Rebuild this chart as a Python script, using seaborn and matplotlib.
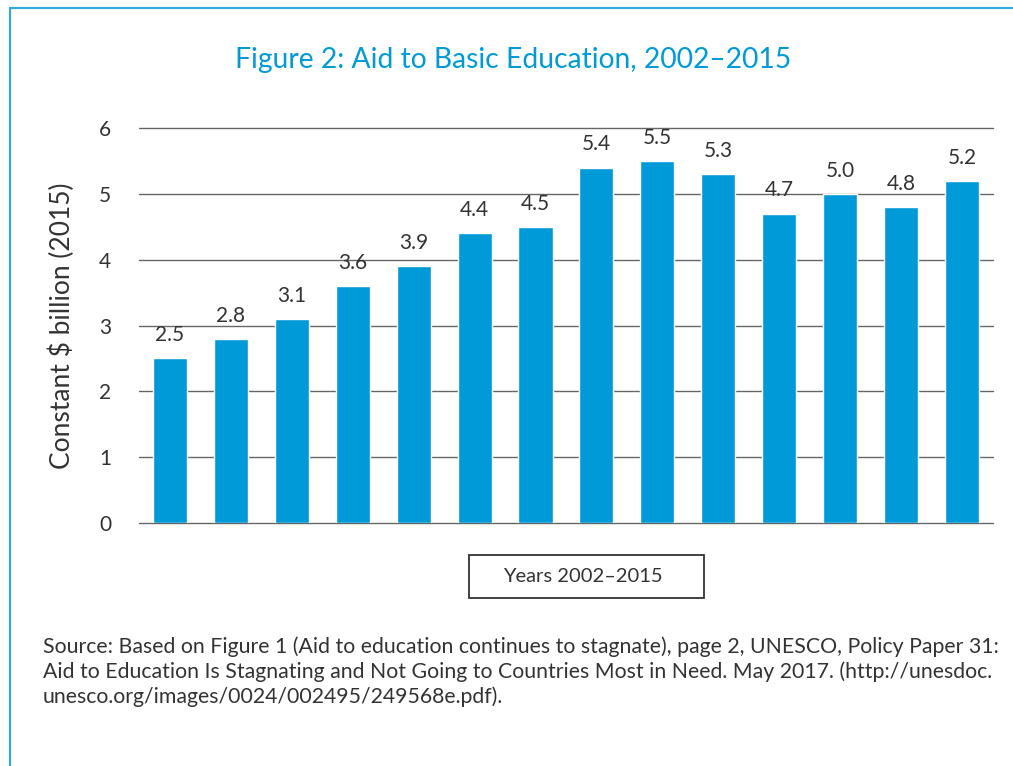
import matplotlib
matplotlib.use("Agg")
import matplotlib.pyplot as plt
import seaborn as sns
import pandas as pd
from matplotlib.patches import Rectangle

years = list(range(2002, 2016))
aid = [2.5, 2.8, 3.1, 3.6, 3.9, 4.4, 4.5, 5.4, 5.5, 5.3, 4.7, 5.0, 4.8, 5.2]
labels = ["2.5", "2.8", "3.1", "3.6", "3.9", "4.4", "4.5", "5.4", "5.5", "5.3", "4.7", "5.0", "4.8", "5.2"]
yticks = [0, 1, 2, 3, 4, 5, 6]

title = "Figure 2: Aid to Basic Education, 2002\u20132015"
ylabel = "Constant $ billion (2015)"
xbox = "Years 2002\u20132015"
source = ("Source: Based on Figure 1 (Aid to education continues to stagnate), page 2, UNESCO, Policy Paper 31:\n"
          "Aid to Education Is Stagnating and Not Going to Countries Most in Need. May 2017. (http://unesdoc.\n"
          "unesco.org/images/0024/002495/249568e.pdf).")

BLUE = "#009ad9"
TEXT = "#333333"

sns.set_style("white")
plt.rcParams["font.family"] = ["Lato", "DejaVu Sans"]

df = pd.DataFrame({"year": [str(y) for y in years], "aid": aid})

fig = plt.figure(figsize=(10.13, 7.66), dpi=100)
ax = fig.add_axes([0.1372, 0.3172, 0.843, 0.5157])

sns.barplot(data=df, x="year", y="aid", color=BLUE, saturation=1, width=0.56, ax=ax, zorder=3)

for i, (v, lab) in enumerate(zip(aid, labels)):
    ax.text(i, v + 0.2, lab, ha="center", va="bottom", fontsize=15, color=TEXT)

ax.set_xlim(-0.51, 13.51)
ax.set_ylim(0, 6)
ax.set_yticks(yticks)
ax.set_yticklabels([str(t) for t in yticks], fontsize=15, color=TEXT)
ax.tick_params(axis="y", length=0, pad=20)
ax.set_xticks([])
ax.set_xlabel("")
ax.set_ylabel(ylabel, fontsize=19, color=TEXT, labelpad=17)
ax.grid(axis="y", color="#666666", linewidth=1, zorder=0)
for gl in ax.get_ygridlines():
    gl.set_clip_on(False)
for s in ax.spines.values():
    s.set_visible(False)

fig.text(0.507, 0.922, title, ha="center", va="center", fontsize=20.3, color=BLUE)

# box around the x-axis caption
fig.add_artist(Rectangle((469 / 1013, 1 - 598 / 766), 235 / 1013, 43 / 766, transform=fig.transFigure,
                         fill=False, edgecolor="#333333", linewidth=1.3))
fig.text(583 / 1013, 1 - 577 / 766, xbox, ha="center", va="center", fontsize=14.5, color=TEXT)

fig.text(0.042, 0.169, source, ha="left", va="top", fontsize=15.3, color=TEXT, linespacing=1.27)

# blue frame (left and top edges visible)
fig.add_artist(Rectangle((10 / 1013, -0.1), 1.2, (766 - 8) / 766 + 0.1, transform=fig.transFigure,
                         fill=False, edgecolor="#29abe2", linewidth=1.5))

fig.savefig("out.png", dpi=100)
